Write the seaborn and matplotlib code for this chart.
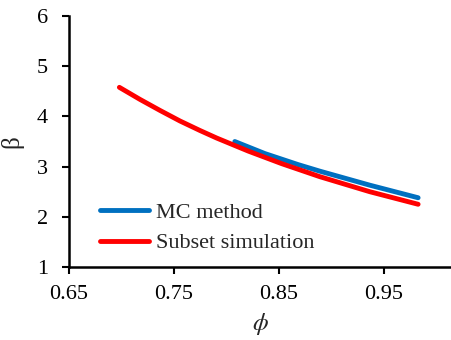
import matplotlib
matplotlib.use("Agg")
import matplotlib.pyplot as plt
import seaborn as sns
import pandas as pd

# Data
mc_phi = [0.808, 0.8367, 0.8684, 0.889, 0.9367, 0.9827]
mc_beta = [3.50, 3.26, 3.04, 2.91, 2.63, 2.38]
ss_phi = [0.698, 0.7176, 0.7367, 0.7557, 0.7748, 0.7907, 0.8208, 0.8526, 0.889, 0.9367, 0.9827]
ss_beta = [4.58, 4.34, 4.12, 3.91, 3.72, 3.57, 3.31, 3.06, 2.80, 2.50, 2.25]
series_names = ["MC method", "Subset simulation"]
x_ticks = [0.65, 0.75, 0.85, 0.95]
y_ticks = [1, 2, 3, 4, 5, 6]

df = pd.concat([
    pd.DataFrame({"phi": mc_phi, "beta": mc_beta, "series": series_names[0]}),
    pd.DataFrame({"phi": ss_phi, "beta": ss_beta, "series": series_names[1]}),
])

sns.set_style("white")
plt.rcParams["font.family"] = ["Liberation Serif", "DejaVu Serif"]
plt.rcParams["mathtext.fontset"] = "stix"

fig = plt.figure(figsize=(4.52, 3.40), dpi=100)
ax = fig.add_axes([0.1527, 0.2147, 0.845, 0.738])

palette = {"MC method": "#0070C0", "Subset simulation": "#FF0000"}
sns.lineplot(data=df, x="phi", y="beta", hue="series", palette=palette,
             linewidth=3.5, ax=ax, sort=True, estimator=None,
             solid_capstyle="round", solid_joinstyle="round")

ax.set_xlim(0.65, 1.014)
ax.set_ylim(1, 6)
ax.set_xticks(x_ticks)
ax.set_xticklabels([f"{v:.2f}" for v in x_ticks])
ax.set_yticks(y_ticks)
ax.tick_params(axis="both", which="major", direction="out", length=5, width=1.5,
               labelsize=16, colors="black", left=True, bottom=True)
ax.tick_params(axis="y", pad=10)
ax.tick_params(axis="x", pad=8)

for s in ["top", "right"]:
    ax.spines[s].set_visible(False)
for s in ["left", "bottom"]:
    ax.spines[s].set_color("black")
    ax.spines[s].set_linewidth(1.8)

ax.set_xlabel(r"$\phi$", fontsize=18, labelpad=5)
ax.set_ylabel("β", fontsize=18, labelpad=10)

handles, labels = ax.get_legend_handles_labels()
ax.legend(handles=handles, labels=labels, frameon=False, fontsize=16,
          loc="lower left", bbox_to_anchor=(0.041, -0.008), handlelength=2.2,
          handletextpad=0.3, labelspacing=0.45, borderpad=0.2)

fig.savefig("out.png", dpi=100)
